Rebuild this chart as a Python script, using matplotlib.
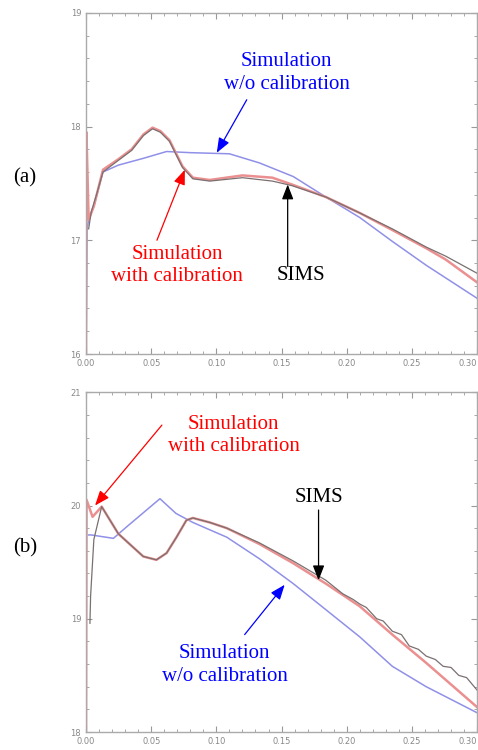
import matplotlib
matplotlib.use("Agg")
import matplotlib.pyplot as plt
from matplotlib.ticker import MultipleLocator

# ---- panel (a) data: depth (um) vs log10 concentration ----
a_red_x = [0.0, 0.0003, 0.002, 0.006, 0.013, 0.0245, 0.035, 0.044, 0.051, 0.057, 0.064, 0.074,
           0.082, 0.095, 0.12, 0.143, 0.158, 0.184, 0.21, 0.235, 0.261, 0.276, 0.30]
a_red_y = [16.0, 17.95, 17.18, 17.30, 17.62, 17.71, 17.80, 17.93, 17.99, 17.96, 17.88, 17.65,
           17.55, 17.53, 17.57, 17.55, 17.49, 17.38, 17.24, 17.09, 16.93, 16.83, 16.63]
a_sims_x = [0.002, 0.004, 0.008, 0.013, 0.0245, 0.035, 0.044, 0.051, 0.057, 0.064, 0.074, 0.082,
            0.095, 0.12, 0.143, 0.158, 0.184, 0.21, 0.235, 0.261, 0.276, 0.30]
a_sims_y = [17.10, 17.25, 17.40, 17.60, 17.70, 17.79, 17.92, 17.98, 17.95, 17.87, 17.64, 17.54,
            17.52, 17.55, 17.52, 17.48, 17.38, 17.24, 17.10, 16.94, 16.86, 16.71]
a_blue_x = [0.0, 0.0008, 0.002, 0.006, 0.013, 0.0247, 0.0439, 0.0618, 0.08, 0.110, 0.133,
            0.159, 0.184, 0.210, 0.235, 0.261, 0.30]
a_blue_y = [16.0, 17.1, 17.18, 17.30, 17.60, 17.66, 17.72, 17.78, 17.77, 17.76, 17.68,
            17.56, 17.38, 17.20, 16.99, 16.78, 16.49]

# ---- panel (b) data ----
b_red_x = [0.0, 0.0004, 0.005, 0.012, 0.0248, 0.0439, 0.054, 0.0618, 0.0694, 0.077, 0.082,
           0.095, 0.108, 0.133, 0.159, 0.184, 0.21, 0.235, 0.261, 0.30]
b_red_y = [18.0, 20.05, 19.90, 19.99, 19.75, 19.55, 19.52, 19.58, 19.72, 19.87, 19.89,
           19.85, 19.80, 19.66, 19.49, 19.31, 19.11, 18.86, 18.61, 18.22]
b_sims_x = [0.003, 0.0035, 0.006, 0.012, 0.0248, 0.0439, 0.054, 0.0618, 0.0694, 0.077, 0.082,
            0.095, 0.108, 0.133, 0.159, 0.184, 0.197, 0.205, 0.21, 0.215, 0.223, 0.228,
            0.235, 0.242, 0.248, 0.255, 0.261, 0.268, 0.274, 0.28, 0.286, 0.292, 0.30]
b_sims_y = [18.96, 19.20, 19.70, 19.99, 19.75, 19.55, 19.52, 19.58, 19.72, 19.87, 19.89,
            19.85, 19.80, 19.67, 19.51, 19.34, 19.22, 19.17, 19.13, 19.10, 19.00, 18.98,
            18.89, 18.86, 18.76, 18.73, 18.67, 18.64, 18.58, 18.57, 18.50, 18.48, 18.37]
b_blue_x = [0.002, 0.004, 0.021, 0.031, 0.0567, 0.069, 0.082, 0.108, 0.133, 0.159,
            0.184, 0.21, 0.235, 0.261, 0.30]
b_blue_y = [19.74, 19.74, 19.71, 19.81, 20.06, 19.93, 19.85, 19.72, 19.53, 19.31,
            19.08, 18.84, 18.58, 18.40, 18.17]

x_ticks = [0.00, 0.05, 0.10, 0.15, 0.20, 0.25, 0.30]
a_yticks = [16, 17, 18, 19]
b_yticks = [18, 19, 20, 21]

RED = "#eb8f90"
GRAY = "#7a7070"
BLUE = "#9090e8"
SERIF = "Liberation Serif"
FS = 15

fig = plt.figure(figsize=(4.78, 7.5), dpi=100)
ax_a = fig.add_axes([0.18, 0.528, 0.818, 0.455])
ax_b = fig.add_axes([0.18, 0.024, 0.818, 0.453])


def style_axes(ax, yticks):
    ax.set_xlim(0, 0.30)
    ax.set_ylim(yticks[0], yticks[-1])
    ax.set_xticks(x_ticks)
    labels = ax.set_xticklabels(["%.2f" % t for t in x_ticks])
    labels[-1].set_ha("right")  # last label sits at the figure edge
    ax.set_yticks(yticks)
    ax.xaxis.set_minor_locator(MultipleLocator(0.01))
    ax.yaxis.set_minor_locator(MultipleLocator(0.2))
    ax.tick_params(which="both", direction="in", top=True, right=True,
                   colors="#999999", labelcolor="#888888", labelsize=6)
    ax.tick_params(which="major", length=4)
    ax.tick_params(which="minor", length=2)
    for s in ax.spines.values():
        s.set_color("#aaaaaa")
        s.set_linewidth(1.0)


def label(ax, xy, text, color):
    ax.text(xy[0], xy[1], text, color=color, ha="center", va="center",
            fontsize=FS, family=SERIF, linespacing=1.25)


def arrow(ax, text_xy, head_xy, color):
    ax.annotate("", xy=head_xy, xytext=text_xy,
                arrowprops=dict(arrowstyle="-|>,head_length=0.9,head_width=0.35",
                                color=color, lw=0.9, shrinkA=0, shrinkB=0))


# panel (a)
ax_a.plot(a_blue_x, a_blue_y, color=BLUE, lw=1.1)
ax_a.plot(a_red_x, a_red_y, color=RED, lw=1.8)
ax_a.plot(a_sims_x, a_sims_y, color=GRAY, lw=0.9)
style_axes(ax_a, a_yticks)
label(ax_a, (0.154, 18.47), "Simulation\nw/o calibration", "blue")
arrow(ax_a, (0.1233, 18.235), (0.1003, 17.769), "blue")
label(ax_a, (0.070, 16.78), "Simulation\nwith calibration", "red")
arrow(ax_a, (0.0544, 17.0), (0.0758, 17.62), "red")
label(ax_a, (0.1646, 16.69), "SIMS", "black")
arrow(ax_a, (0.1547, 16.77), (0.1547, 17.49), "black")

# panel (b)
ax_b.plot(b_blue_x, b_blue_y, color=BLUE, lw=1.1)
ax_b.plot(b_red_x, b_red_y, color=RED, lw=1.8)
ax_b.plot(b_sims_x, b_sims_y, color=GRAY, lw=0.9)
style_axes(ax_b, b_yticks)
label(ax_b, (0.1133, 20.62), "Simulation\nwith calibration", "red")
arrow(ax_b, (0.0582, 20.71), (0.0069, 20.0), "red")
label(ax_b, (0.1784, 20.07), "SIMS", "black")
arrow(ax_b, (0.1784, 19.96), (0.1784, 19.34), "black")
label(ax_b, (0.1064, 18.59), "Simulation\nw/o calibration", "blue")
arrow(ax_b, (0.1217, 18.86), (0.1524, 19.30), "blue")

fig.text(25 / 478, 1 - 178 / 750, "(a)", ha="center", va="center", fontsize=FS, family=SERIF)
fig.text(25 / 478, 1 - 548 / 750, "(b)", ha="center", va="center", fontsize=FS, family=SERIF)

fig.savefig("out.png", dpi=100)
